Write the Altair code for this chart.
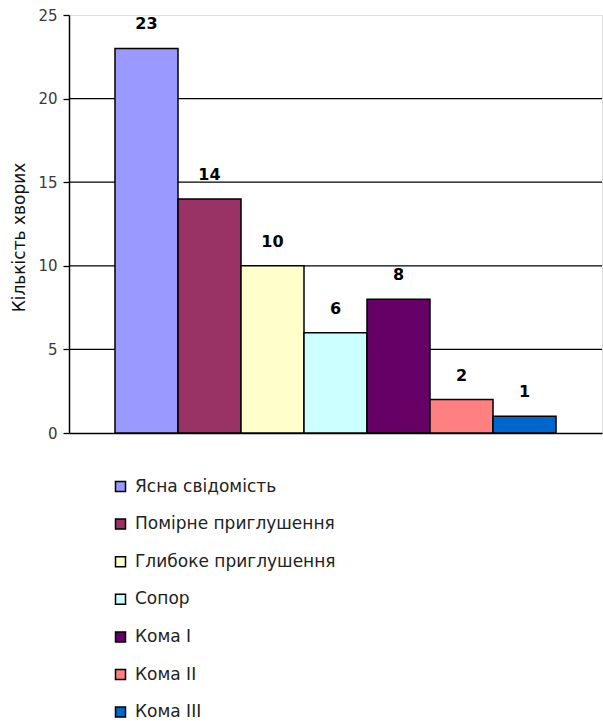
import altair as alt
import pandas as pd

categories = ["Ясна свідомість", "Помірне приглушення", "Глибоке приглушення",
              "Сопор", "Кома I", "Кома II", "Кома III"]
values = [23, 14, 10, 6, 8, 2, 1]
colors = ["#9999FF", "#993366", "#FFFFCC", "#CCFFFF", "#660066", "#FF8080", "#0066CC"]
y_ticks = [0, 5, 10, 15, 20, 25]
grid_values = [5, 10, 15, 20]

df = pd.DataFrame({"category": categories, "value": values})
gdf = pd.DataFrame({"value": grid_values})

x = alt.X("category:N", sort=categories,
          scale=alt.Scale(paddingInner=0, paddingOuter=0.73),
          axis=alt.Axis(labels=False, ticks=False, title=None,
                        domainColor="black", domainWidth=1.5))
y = alt.Y("value:Q", scale=alt.Scale(domain=[0, 25], nice=False),
          axis=alt.Axis(values=y_ticks, title="Кількість хворих", grid=False,
                        domainColor="black", domainWidth=1.5,
                        tickColor="black", tickSize=6, tickWidth=1.3,
                        labelFont="DejaVu Sans", labelFontSize=15, labelColor="#3a3a3a",
                        labelPadding=6,
                        titleFont="DejaVu Sans", titleFontSize=17, titleFontWeight="normal",
                        titleColor="#111111", titleX=-50, titleY=222, titleAngle=270,
                        titleBaseline="middle"))

grid = alt.Chart(gdf).mark_rule(color="black", strokeWidth=1.3).encode(y=y)

base = alt.Chart(df).encode(x=x, y=y)

bars = base.mark_bar(stroke="black", strokeWidth=1.5).encode(
    color=alt.Color("category:N", sort=categories,
                    scale=alt.Scale(domain=categories, range=colors),
                    legend=alt.Legend(orient="none", legendX=43, legendY=463,
                                      direction="vertical", title=None,
                                      symbolType="square", symbolSize=100,
                                      symbolStrokeColor="black", symbolStrokeWidth=1.5,
                                      labelFont="DejaVu Sans", labelFontSize=17,
                                      labelColor="#222222", labelOffset=6,
                                      rowPadding=19.6, labelLimit=400))
)

labels = base.mark_text(dy=-24, fontWeight="bold", fontSize=16,
                        font="DejaVu Sans", color="black").encode(text="value:Q")

chart = alt.layer(grid, bars, labels).properties(
    width=533, height=418,
    autosize=alt.AutoSizeParams(type="none"),
    padding={"left": 69, "top": 15, "right": 1, "bottom": 288},
).configure_view(stroke=None).configure(background="white")

chart.save("out.html", embed_options={"renderer": "svg", "actions": False})
